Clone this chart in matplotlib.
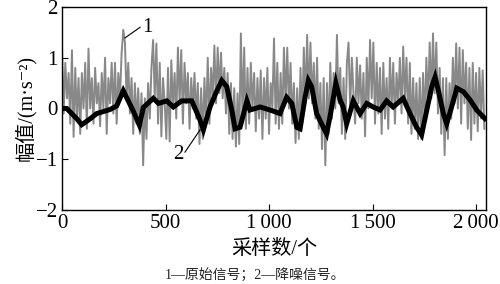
import numpy as np
import matplotlib
matplotlib.use("Agg")
import matplotlib.pyplot as plt

plt.rcParams['font.family'] = ['Liberation Serif', 'Noto Sans CJK SC', 'DejaVu Sans']
plt.rcParams['axes.unicode_minus'] = True

# Original (noisy) signal, one value every 8 samples
gray_step = 8
gray = [
    1.2, -0.1, 0.9, 0.2, 0.7, -0.3, 1.15, -0.56,
    0.8, -0.2, 0.6, -0.5, 0.7, 0.0, 0.9, -0.4,
    1.18, 0.0, 0.6, -0.3, 0.8, 0.1, 0.5, -0.35,
    0.7, 0.0, 1.0, -0.5, 0.6, 0.1, 0.9, -0.1,
    0.9, -0.3, 0.7, 0.2, 1.1, 1.55, 1.3, 0.2,
    0.9, -0.1, 0.6, -0.5, 0.5, -0.3, 0.4, -0.5,
    0.3, -1.12, 0.2, -0.6, 0.5, -0.2, 0.8, 1.35,
    0.2, 1.28, -0.3, 0.9, -0.55, 0.6, 0.1, -0.6,
    0.8, -0.65, 0.95, 0.0, 0.7, -0.2, 1.2, 0.1,
    1.15, -0.3, 0.9, 0.1, 0.7, -0.4, 0.6, 0.0,
    0.7, -0.2, 0.5, -0.7, 0.4, -0.6, 0.6, -0.3,
    1.0, -0.3, 0.8, 0.2, 1.24, 0.1, 1.2, 0.3,
    1.1, 0.2, 0.8, -0.1, 0.7, -0.5, 0.5, -0.6,
    0.4, -0.75, 0.3, -0.7, 1.48, -0.2, 1.2, -0.4,
    0.8, -0.3, 0.9, 0.0, 0.7, -0.45, 0.6, -0.2,
    0.75, -0.6, 0.6, -0.2, 0.8, -0.5, 0.5, 0.0,
    1.38, -0.3, 0.9, -0.4, 0.7, -0.3, 1.2, 0.1,
    1.2, 0.0, 0.9, -0.3, 0.5, -0.68, 0.4, -0.6,
    0.8, -0.3, 1.2, 0.1, 1.45, 0.2, 1.3, 0.1,
    0.9, -0.2, 1.0, -0.4, 0.5, -0.8, 0.6, -1.12,
    0.5, -0.5, 0.9, -0.2, 0.7, 0.0, 1.45, 0.1,
    0.8, -0.5, 0.6, -0.6, 0.9, 1.3, 0.0, 1.0,
    0.3, -0.3, 1.0, 0.1, 0.85, -0.2, 0.7, -0.55,
    1.0, 0.0, 1.35, 0.2, 1.3, -0.3, 0.9, -0.1,
    0.8, -0.5, 0.9, -0.2, 0.6, -0.4, 1.0, 0.0,
    0.9, -0.3, 0.7, 0.1, 1.0, -0.1, 1.22, 0.2,
    1.0, -0.3, 0.9, -0.5, 0.6, -0.4, 0.5, -0.6,
    0.6, -0.6, 0.7, -0.3, 1.0, 0.0, 1.3, 0.2,
    1.48, 0.3, 1.3, -0.1, 0.8, -0.5, 0.6, -0.92,
    0.6, -0.6, 0.5, -0.2, 1.0, 0.1, 1.28, 0.0,
    1.2, -0.3, 1.15, 0.1, 0.9, -0.4, 0.8, -0.62,
    0.9, -0.3, 0.7, -0.45, 0.8, -0.2, 0.75, -0.4,
]

# Denoised signal
black_x = [0, 23, 71, 95, 127, 168, 232, 264, 296, 320,
           344, 374, 393, 441, 466, 506, 538, 578, 627, 667,
           683, 715, 748, 772, 796, 820, 836, 860, 893, 908,
           957, 1005, 1053, 1085, 1110, 1134, 1150, 1174, 1190, 1206,
           1230, 1262, 1278, 1294, 1323, 1343, 1358, 1375, 1407, 1440,
           1472, 1503, 1536, 1568, 1600, 1648, 1681, 1713, 1737, 1761,
           1786, 1802, 1818, 1842, 1858, 1882, 1907, 1939, 1971, 2003,
           2043]
black_y = [0.0, 0.0, -0.2, -0.32, -0.23, -0.1, -0.02, 0.05, 0.35, 0.15,
           -0.05, -0.33, 0.02, 0.2, 0.1, 0.15, 0.03, 0.15, 0.15, -0.23,
           -0.42, 0.03, 0.35, 0.55, 0.43, -0.03, -0.4, -0.37, 0.15, -0.03,
           0.03, -0.03, -0.1, 0.22, 0.1, -0.37, -0.4, 0.22, 0.55, 0.43,
           -0.1, -0.37, -0.5, -0.17, 0.5, 0.17, 0.03, -0.3, 0.15, -0.1,
           0.1, 0.03, -0.03, 0.15, 0.03, 0.2, -0.1, -0.37, -0.52, -0.05,
           0.43, 0.62, 0.35, -0.1, -0.3, 0.03, 0.4, 0.33, 0.17, -0.03,
           -0.2]

x_ticks = [0, 500, 1000, 1500, 2000]
x_tick_labels = ["0", "500", "1\u2009000", "1\u2009500", "2\u2009000"]
y_ticks = [-2, -1, 0, 1, 2]
y_tick_labels = ["\u22122", "\u22121", "0", "1", "2"]

fig = plt.figure(figsize=(5.0, 2.84), dpi=100)
ax = fig.add_axes([0.124, 0.2606, 0.848, 0.7148])

gx = np.arange(len(gray)) * gray_step
ax.plot(gx, gray, color='#888888', lw=1.4)
ax.plot(black_x, black_y, color='black', lw=3.6, solid_joinstyle='miter')

ax.set_xlim(0, 2048)
ax.set_ylim(-2, 2)
ax.set_xticks(x_ticks)
ax.set_xticklabels(x_tick_labels)
ax.set_yticks(y_ticks)
ax.set_yticklabels(y_tick_labels)
ax.tick_params(direction='in', length=4, width=0.8, labelsize=15, pad=3)
for s in ax.spines.values():
    s.set_linewidth(1.0)

ax.set_xlabel("采样数/个", fontsize=14.5, labelpad=5)
ax.set_ylabel("幅值/(m·s\u207b\u00b2)", fontsize=14.5, labelpad=0)

# annotations
ax.plot([304, 377], [1.39, 1.6], color='black', lw=0.8)
ax.text(385, 1.6, "1", fontsize=15, ha='left', va='center')
ax.plot([594, 667], [-0.86, -0.42], color='black', lw=0.8)
ax.text(585, -0.9, "2", fontsize=15, ha='right', va='center')

fig.text(0.51, 0.03, "1—原始信号；2—降噪信号。", fontsize=10, ha='center',
         va='center', color='#222222')

fig.savefig("out.png", dpi=100)
